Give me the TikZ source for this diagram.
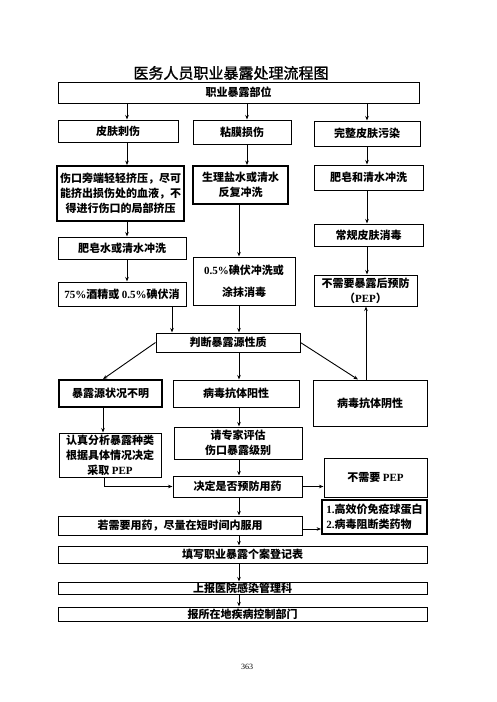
\documentclass[tikz,border=0pt]{standalone}
\usepackage{fontspec}
\setmainfont{Noto Sans CJK SC}
\newfontfamily\enfont{Liberation Serif}
\newfontfamily\titlefont{Noto Sans CJK SC}[FakeBold=1.3]
\newcommand\en[1]{{\enfont\bfseries #1}}
\usetikzlibrary{arrows.meta}
\tikzset{
	box/.style={draw, line width=1pt, inner sep=0pt, align=center, font=\bfseries\fontsize{11}{15}\selectfont},
	thickbox/.style={box, line width=1.8pt},
	wh/.style 2 args={minimum width=#1pt, minimum height=#2pt},
	arr/.style={-{Stealth[length=4.5pt,width=3.5pt]}, line width=0.9pt},
}
\begin{document}
\begin{tikzpicture}[x=1pt,y=-1pt]
	\useasboundingbox (0,0) rectangle (496,702);
	\node (title) at (231,73) {\titlefont\fontsize{15}{15}\selectfont 医务人员职业暴露处理流程图};
	\node[box, wh={361}{21}] (site) at (238.5,92.5) {职业暴露部位};
	\node[box, wh={120}{22}] (stab) at (118,131) {皮肤刺伤};
	\node[box, wh={98}{24}] (mucosa) at (242,132) {粘膜损伤};
	\node[box, wh={106}{25}] (intact) at (367,133.5) {完整皮肤污染};
	\node[thickbox, wh={127}{55}] (squeeze) at (120.5,193.5) {伤口旁端轻轻挤压，尽可\\能挤出损伤处的血液，不\\得进行伤口的局部挤压};
	\node[thickbox, wh={95}{38}] (saline) at (240.5,185) {生理盐水或清水\\反复冲洗};
	\node[box, wh={109}{25}] (soap) at (368.5,177.5) {肥皂和清水冲洗};
	\node[box, wh={128}{22}] (wash) at (122,248) {肥皂水或清水冲洗};
	\node[box, wh={109}{22}] (disinf) at (368.5,235) {常规皮肤消毒};
	\node[box, wh={128}{24}] (alcohol) at (122,294) {\en{75\%}酒精或 \en{0.5\%}碘伏消};
	\node[box, wh={102}{48}] (iodine) at (244,281) {\en{0.5\%}碘伏冲洗或\\[7pt]涂抹消毒};
	\node[box, wh={103}{31}] (nopepA) at (365.5,290.5) {\fontsize{11}{14}\selectfont 不需要暴露后预防\\（\en{PEP}）};
	\node[box, wh={144}{19}] (judge) at (228,342.5) {判断暴露源性质};
	\node[thickbox, wh={103}{27}] (unknown) at (110.5,393.5) {暴露源状况不明};
	\node[box, wh={126}{27}] (pos) at (236,393.5) {病毒抗体阳性};
	\node[box, wh={114}{46}] (neg) at (370,403) {病毒抗体阴性};
	\node[box, wh={102}{44}] (analyse) at (110,455) {认真分析暴露种类\\根据具体情况决定\\采取 \en{PEP}};
	\node[box, wh={128}{32}] (expert) at (238,443) {\fontsize{11}{17}\selectfont 请专家评估\\伤口暴露级别};
	\node[box, wh={103}{39}] (nopepB) at (375.5,477.5) {不需要 \en{PEP}};
	\node[box, wh={129}{21}] (decide) at (237.5,486.5) {决定是否预防用药};
	\node[thickbox, wh={105}{34}, align=left] (drugs) at (374.5,517) {\en{1.}高效价免疫球蛋白\\\en{2.}病毒阻断类药物};
	\node[box, wh={244}{19}] (ifneed) at (180,525.5) {若需要用药，尽量在短时间内服用};
	\node[box, wh={369}{17}] (record) at (242.5,554.5) {填写职业暴露个案登记表};
	\node[box, wh={369}{12}] (report) at (242.5,588) {上报医院感染管理科};
	\node[box, wh={369}{14}] (local) at (242.5,614) {报所在地疾病控制部门};
	\node[font=\enfont\fontsize{8}{8}\selectfont] (page) at (247,667) {363};

	\draw[arr] (site.south -| 127,0) -- (stab.north -| 127,0);
	\draw[arr] (site.south -| 247,0) -- (mucosa.north -| 247,0);
	\draw[arr] (site.south -| 367,0) -- (intact.north -| 367,0);
	\draw[arr] (stab.south -| 127,0) -- (squeeze.north -| 127,0);
	\draw[arr] (mucosa.south -| 247,0) -- (saline.north -| 247,0);
	\draw[arr] (intact.south -| 367,0) -- (soap.north -| 367,0);
	\draw[arr] (squeeze.south -| 127,0) -- (wash.north -| 127,0);
	\draw[arr] (wash.south -| 127,0) -- (alcohol.north -| 127,0);
	\draw[arr] (saline.south -| 239,0) -- (iodine.north -| 239,0);
	\draw[arr] (soap.south -| 367,0) -- (disinf.north -| 367,0);
	\draw[arr] (disinf.south -| 367,0) -- (nopepA.north -| 367,0);
	\draw[arr] (alcohol.south -| 172,0) -- (judge.north -| 172,0);
	\draw[arr] (iodine.south -| 239,0) -- (judge.north -| 239,0);
	\draw[arr] (neg.north -| 366,0) -- (nopepA.south -| 366,0);
	\draw[arr] (judge.west) -- (unknown.north -| 103,0);
	\draw[arr] (judge.east) -- (neg.north -| 358,0);
	\draw[arr] (judge.south -| 239,0) -- (pos.north -| 239,0);
	\draw[arr] (unknown.south -| 103,0) -- (analyse.north -| 103,0);
	\draw[arr] (pos.south -| 239,0) -- (expert.north -| 239,0);
	\draw[arr] (analyse.south -| 104,0) |- (decide.west);
	\draw[arr] (expert.south -| 239,0) -- (decide.north -| 239,0);
	\draw[arr] (decide.east) -- (decide.east -| nopepB.west);
	\draw[arr] (decide.south -| 239,0) -- (ifneed.north -| 239,0);
	\draw[arr] (ifneed.east |- 0,529) -- (drugs.west |- 0,529);
	\draw[arr] (ifneed.south -| 239,0) -- (record.north -| 239,0);
	\draw[arr] (record.south -| 239,0) -- (report.north -| 239,0);
	\draw[arr] (report.south -| 239,0) -- (local.north -| 239,0);
\end{tikzpicture}
\end{document}
